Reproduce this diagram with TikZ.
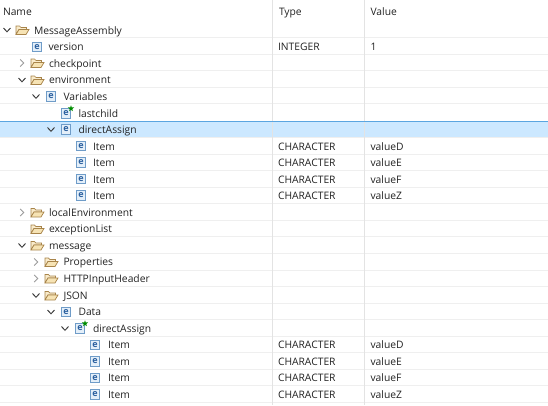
\documentclass[tikz,border=0pt]{standalone}
\usepackage{fontspec}
\setmainfont{Open Sans}
\usepackage{tikz}
\usetikzlibrary{arrows.meta}
\usetikzlibrary{shapes.geometric}
\definecolor{rowline}{HTML}{EFEFEF}
\definecolor{colline}{HTML}{E3E3E3}
\definecolor{selfill}{HTML}{CCE8FF}
\definecolor{selline}{HTML}{5AA5E0}
\definecolor{labeltext}{HTML}{222222}
\definecolor{folderedge}{HTML}{A8844A}
\definecolor{folderfill}{HTML}{F6E3B4}
\definecolor{elemedge}{HTML}{6F9CC8}
\definecolor{elemfill}{HTML}{E4EFF9}
\definecolor{elemtext}{HTML}{2A5F9E}
\definecolor{chevron}{HTML}{3C3C3C}
\definecolor{chevroff}{HTML}{9A9A9A}
\tikzset{
  cell/.style={anchor=base west,inner sep=0pt,outer sep=0pt,text=labeltext,yshift=-0.6pt,font=\fontsize{10.3}{12}\selectfont},
  pics/folder/.style={code={
    \draw[folderedge,fill=folderfill!70!white,line width=0.7pt] (-6,4.5) -- (-6,-4) -- (-2.5,-4) -- (-1,-2.5) -- (4.5,-2.5) -- (4.5,-0.5) -- (-3,-0.5) -- (-6,4.5);
    \draw[folderedge,fill=folderfill,line width=0.7pt] (-6,4.5) -- (-3,-0.5) -- (7,-0.5) -- (4,4.5) -- cycle;
  }},
  pics/elem/.style={code={
    \draw[elemedge,fill=elemfill,line width=0.8pt] (-4.8,-4.8) rectangle (4.8,4.8);
    \node[inner sep=0pt,text=elemtext,font=\fontsize{9}{9}\bfseries\selectfont] at (0,-0.4) {e};
  }},
  pics/newmark/.style={code={
    \node[star,star points=5,star point ratio=2.4,fill=green!55!black,inner sep=0pt,minimum size=6.5pt] at (5,-5) {};
  }},
  pics/open/.style={code={
    \draw[chevron,line width=0.95pt] (-3.5,-2) -- (0,1.8) -- (3.5,-2);
  }},
  pics/closed/.style={code={
    \draw[chevroff,line width=0.95pt] (-1.8,-3.5) -- (1.8,0) -- (-1.8,3.5);
  }}
}
\begin{document}
\begin{tikzpicture}[x=1pt,y=-1pt,line width=0.2mm]
\useasboundingbox (0,0) rectangle (548,405);

% selected row
\fill[selfill] (0,121) rectangle (548,138);

% row lines
\draw[rowline,line width=1pt] (0,37.5) -- (548,37.5);
\draw[rowline,line width=1pt] (0,54) -- (548,54);
\draw[rowline,line width=1pt] (0,70.6) -- (548,70.6);
\draw[rowline,line width=1pt] (0,87.2) -- (548,87.2);
\draw[rowline,line width=1pt] (0,103.7) -- (548,103.7);
\draw[rowline,line width=1pt] (0,137.5) -- (548,137.5);
\draw[rowline,line width=1pt] (0,154) -- (548,154);
\draw[rowline,line width=1pt] (0,170.6) -- (548,170.6);
\draw[rowline,line width=1pt] (0,187.2) -- (548,187.2);
\draw[rowline,line width=1pt] (0,203.7) -- (548,203.7);
\draw[rowline,line width=1pt] (0,220.3) -- (548,220.3);
\draw[rowline,line width=1pt] (0,236.8) -- (548,236.8);
\draw[rowline,line width=1pt] (0,253.4) -- (548,253.4);
\draw[rowline,line width=1pt] (0,270) -- (548,270);
\draw[rowline,line width=1pt] (0,286.5) -- (548,286.5);
\draw[rowline,line width=1pt] (0,303.1) -- (548,303.1);
\draw[rowline,line width=1pt] (0,319.6) -- (548,319.6);
\draw[rowline,line width=1pt] (0,336.2) -- (548,336.2);
\draw[rowline,line width=1pt] (0,352.8) -- (548,352.8);
\draw[rowline,line width=1pt] (0,369.3) -- (548,369.3);
\draw[rowline,line width=1pt] (0,385.9) -- (548,385.9);
\draw[rowline,line width=1pt] (0,402.4) -- (548,402.4);

% column lines
\draw[colline,line width=0.9pt] (272.7,0) -- (272.7,405);
\draw[colline,line width=0.9pt] (364.2,0) -- (364.2,405);
\draw[selline,line width=1.6pt] (0,121.5) -- (548,121.5);

% header
\node[cell] (namehead) at (3,14.5) {Name};
\node[cell] (typehead) at (279,14.5) {Type};
\node[cell] (valuehead) at (370.5,14.5) {Value};

% tree
\pic at (7,30) {open};
\pic at (22,30) {folder};
\node[cell] (assembly) at (34,33.5) {MessageAssembly};
\pic at (37,47) {elem};
\node[cell] (version) at (48.5,50) {version};
\pic at (22,63) {closed};
\pic at (37,63) {folder};
\node[cell] (checkpoint) at (49,66.5) {checkpoint};
\pic at (22,80) {open};
\pic at (37,80) {folder};
\node[cell] (environment) at (49,83) {environment};
\pic at (36,96.5) {open};
\pic at (51,96.5) {elem};
\node[cell] (variables) at (63.5,99.5) {Variables};
\pic at (66,113.5) {elem};
\pic at (66,113.5) {newmark};
\node[cell] (lastchild) at (78.5,116.5) {lastchild};
\pic at (51,129.5) {open};
\pic at (66,129.5) {elem};
\node[cell] (assignone) at (78.5,133) {directAssign};
\pic at (81,146) {elem};
\node[cell] (itemd) at (93,149.5) {Item};
\pic at (81,162.5) {elem};
\node[cell] (iteme) at (93,166) {Item};
\pic at (81,179) {elem};
\node[cell] (itemf) at (93,182.5) {Item};
\pic at (81,195.5) {elem};
\node[cell] (itemz) at (93,199) {Item};
\pic at (22,212.5) {closed};
\pic at (37,212.5) {folder};
\node[cell] (localenv) at (49,215.5) {localEnvironment};
\pic at (37,229) {folder};
\node[cell] (exception) at (49,232) {exceptionList};
\pic at (22,245.5) {open};
\pic at (37,245.5) {folder};
\node[cell] (message) at (49,248.5) {message};
\pic at (36,262) {closed};
\pic at (51,262) {folder};
\node[cell] (properties) at (63.5,265) {Properties};
\pic at (36,278.5) {closed};
\pic at (51,278.5) {folder};
\node[cell] (httphead) at (63.5,281.5) {HTTPInputHeader};
\pic at (36,295.5) {open};
\pic at (51,295.5) {folder};
\node[cell] (json) at (63.5,298.5) {JSON};
\pic at (51,312) {open};
\pic at (66,312) {elem};
\node[cell] (data) at (78.5,315) {Data};
\pic at (65,328.5) {open};
\pic at (80,328.5) {elem};
\pic at (80,328.5) {newmark};
\node[cell] (assigntwo) at (93,331.5) {directAssign};
\pic at (95,345) {elem};
\node[cell] (itemdtwo) at (108,348) {Item};
\pic at (95,361.5) {elem};
\node[cell] (itemetwo) at (108,364.5) {Item};
\pic at (95,378) {elem};
\node[cell] (itemftwo) at (108,381) {Item};
\pic at (95,394.5) {elem};
\node[cell] (itemztwo) at (108,397.5) {Item};

% type and value
\node[cell] (versiontype) at (278,50) {INTEGER};
\node[cell] (versionvalue) at (370.5,50) {1};
\node[cell] (typed) at (278,149.5) {CHARACTER};
\node[cell] (valued) at (370.5,149.5) {valueD};
\node[cell] (typee) at (278,166) {CHARACTER};
\node[cell] (valuee) at (370.5,166) {valueE};
\node[cell] (typef) at (278,182.5) {CHARACTER};
\node[cell] (valuef) at (370.5,182.5) {valueF};
\node[cell] (typez) at (278,199) {CHARACTER};
\node[cell] (valuez) at (370.5,199) {valueZ};
\node[cell] (typedtwo) at (278,348) {CHARACTER};
\node[cell] (valuedtwo) at (370.5,348) {valueD};
\node[cell] (typeetwo) at (278,364.5) {CHARACTER};
\node[cell] (valueetwo) at (370.5,364.5) {valueE};
\node[cell] (typeftwo) at (278,381) {CHARACTER};
\node[cell] (valueftwo) at (370.5,381) {valueF};
\node[cell] (typeztwo) at (278,397.5) {CHARACTER};
\node[cell] (valueztwo) at (370.5,397.5) {valueZ};

\end{tikzpicture}
\end{document}
